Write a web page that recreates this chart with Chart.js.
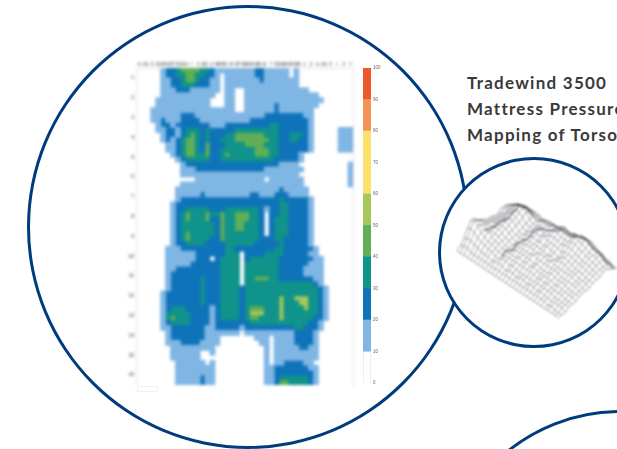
<!DOCTYPE html>
<html>
<head>
<meta charset="utf-8">
<title>Tradewind 3500 Mattress Pressure Mapping of Torso</title>
<script src="https://cdn.jsdelivr.net/npm/chart.js@4/dist/chart.umd.min.js"></script>
<style>
  html, body { margin: 0; padding: 0; background: #fff; }
  #page { position: relative; width: 617px; height: 449px; overflow: hidden; background: #fff; }
  #page > * { position: absolute; }
  .ring { box-sizing: border-box; border: 3px solid #003c7d; border-radius: 50%; background: #fff; }
  #bigRing { left: 27px; top: 5px; width: 442px; height: 444px; }
  #smallRing { left: 438px; top: 157px; width: 192px; height: 191px; }
  #lowerRing { left: 440px; top: 410px; width: 360px; height: 360px; }
  #heatCanvas { left: 120px; top: 55px; filter: blur(1.5px); }
  #barCanvas { left: 355px; top: 60px; filter: blur(0.7px); }
  #meshCanvas { left: 440px; top: 159px; filter: blur(0.9px); }
  #title { left: 467px; top: 70px; white-space: nowrap; color: #3a3a3a;
           font: bold 17px/26px Lato, sans-serif; letter-spacing: 1.25px; }
  #scaleBox { left: 137px; top: 386px; width: 19px; height: 4px; border: 1px solid #eef1f4; }
</style>
</head>
<body>
<div id="page">
  <div class="ring" id="bigRing"></div>
  <canvas id="heatCanvas" width="240" height="340"></canvas>
  <canvas id="barCanvas" width="40" height="335"></canvas>
  <div id="scaleBox"></div>
  <div id="title">Tradewind 3500<br>Mattress Pressure<br>Mapping of Torso</div>
  <div class="ring" id="smallRing"></div>
  <canvas id="meshCanvas" width="177" height="188"></canvas>
  <div class="ring" id="lowerRing"></div>
</div>
<script>
// pressure bands in mmHg
const bandEdges = [0, 10, 20, 30, 40, 50, 60, 80, 90, 100];
const bandColors = ['#ffffff', '#7fb6e4', '#0f73ba', '#10938a', '#60af55', '#a6c85a', '#fbe26c', '#f39358', '#ec5a2b'];
const rowLabels = [1, 2, 3, 4, 5, 6, 7, 8, 9, 10, 11, 12, 13, 14, 15, 16];
const colLabels = ['A','AS','Z','DS','BS','BT','DS','DA','I','X','BS','A','BB','BS','B','BT',
  'BB','BS','BB','B','T','BS','BB','BS','BB','1','Z','A','AS','X','I','X','Y'];
const columnCount = 44;

// sensor map, four lines per sensor row. each line is pairs: start column, band
const pressureRuns = [
  [5,1,6,2,8,3,9,4,13,3,15,2,16,1,24,2,26,1,31,0,32,1,33,0],
  [5,1,6,2,8,3,10,4,12,3,14,2,16,1,17,0,18,1,24,2,26,1,31,0,32,1,33,0],
  [5,1,7,2,9,3,10,4,12,3,13,2,15,1,17,0,18,1,25,2,26,1,33,0],
  [5,1,7,2,9,3,12,2,15,1,17,0,18,1,33,0],
  [5,1,8,2,11,1,17,0,18,1,20,0,22,1,35,0],
  [5,1,16,0,18,1,20,0,22,1,37,0],
  [4,1,15,0,18,1,20,0,22,1,38,0],
  [4,1,15,0,18,1,20,0,22,1,28,2,29,1,37,0],
  [3,1,20,0,22,1,28,2,29,1,36,0],
  [3,1,9,2,12,1,26,2,34,1,36,0],
  [3,1,5,2,6,1,9,2,13,1,23,2,35,1,36,0],
  [4,1,5,2,7,1,8,2,15,1,18,2,27,3,29,2,35,1,36,0],
  [4,1,6,2,8,1,9,2,10,3,13,2,14,3,15,2,20,3,29,2,35,1,36,0,41,1],
  [5,1,6,2,8,1,9,2,10,3,11,4,12,3,13,2,14,3,15,2,18,3,20,4,26,3,29,2,31,3,34,2,35,1,36,0,41,1],
  [5,1,6,2,7,1,8,2,9,3,10,4,12,3,13,2,14,3,15,2,17,3,20,4,27,3,29,2,31,3,33,2,35,1,36,0,41,1],
  [6,1,8,2,9,3,10,4,12,3,13,2,14,4,15,2,18,3,22,4,26,3,29,2,35,1,36,0,41,1],
  [6,1,8,2,9,3,10,4,12,3,13,2,14,4,15,2,17,3,24,4,27,3,29,2,35,1,36,0,41,1],
  [7,1,8,2,9,3,10,4,12,3,14,4,15,2,17,3,18,4,19,3,24,4,27,3,29,2,33,1,34,0],
  [8,1,9,2,10,3,15,2,17,3,28,2,33,1,34,0],
  [9,1,10,2,29,1,33,0,43,1],
  [9,1,12,2,26,1,34,0,43,1],
  [9,1,33,0,43,1],
  [12,1,26,0,27,1,34,0,43,1],
  [9,1,34,0,43,1],
  [8,1,29,2,30,1,35,0],
  [8,1,13,2,14,1,23,2,25,1,28,2,31,1,35,0],
  [8,1,9,2,29,3,30,2,35,1,36,0],
  [7,1,8,2,29,3,31,2,35,1,36,0],
  [7,1,8,2,10,3,15,2,18,3,25,2,26,1,27,2,29,3,31,2,35,1,36,0],
  [7,1,8,2,9,3,10,4,11,3,14,4,15,3,17,4,18,3,20,4,23,3,25,2,26,0,27,2,29,3,31,2,35,1,36,0],
  [7,1,8,2,9,3,10,4,11,3,14,4,15,2,17,4,18,3,20,4,23,3,25,2,26,0,27,2,28,3,31,2,35,1,36,0],
  [7,1,8,2,9,3,16,2,17,4,18,3,20,4,22,3,25,2,26,0,27,2,28,3,31,2,35,1,36,0],
  [7,1,8,2,9,3,16,2,17,4,18,3,20,4,22,3,25,2,26,0,27,2,28,3,31,2,35,1,36,0],
  [7,1,8,2,9,3,10,4,11,3,16,2,17,4,18,3,25,2,26,0,27,2,28,3,31,2,35,1,36,0],
  [7,1,8,2,9,3,10,4,11,3,15,2,17,4,18,3,25,2,28,3,30,2,35,1,36,0],
  [7,1,8,2,10,3,14,2,18,3,24,2,29,3,30,2,35,1,36,0],
  [6,1,9,2,18,3,20,2,28,3,30,2,36,1,37,0],
  [6,1,12,2,18,3,21,0,22,2,26,3,30,2,35,1,37,0],
  [6,1,12,2,15,0,16,2,17,3,21,0,22,2,23,3,29,2,36,1,38,0],
  [6,1,11,2,17,3,21,0,22,3,29,2,35,1,38,0],
  [6,1,8,2,17,3,21,0,22,3,29,2,34,1,38,0],
  [6,1,7,2,17,3,21,0,22,3,29,2,34,1,38,0],
  [6,1,7,2,13,3,14,2,17,3,21,0,22,3,24,4,27,3,29,2,36,1,38,0],
  [6,1,7,2,13,3,14,2,17,3,21,0,22,3,36,2,37,1,38,0],
  [6,1,7,2,13,3,14,2,17,3,21,2,22,3,37,2,38,1,39,0],
  [5,1,6,2,13,3,14,2,17,3,21,2,22,3,37,2,38,1,39,0],
  [5,1,6,2,13,3,14,2,17,3,21,2,22,3,29,5,30,3,32,5,35,3,37,2,38,1,39,0],
  [5,1,6,2,13,3,14,2,17,3,21,2,22,3,29,5,30,3,33,5,35,3,37,2,38,1,39,0],
  [5,1,6,2,7,3,10,2,15,1,16,2,17,3,21,2,22,3,23,4,26,3,29,5,30,3,34,5,35,3,37,2,38,1,39,0],
  [5,1,6,3,11,2,15,1,16,2,17,3,21,2,22,3,23,5,26,3,29,5,30,3,37,2,38,1,39,0],
  [5,1,6,3,7,4,8,3,11,2,15,1,16,2,17,3,21,2,22,3,23,4,25,3,29,5,30,3,36,2,38,1,39,0],
  [5,1,6,2,7,3,11,2,15,1,16,2,23,3,35,2,37,1,38,0],
  [5,1,7,2,14,1,16,2,21,1,22,2,32,3,34,2,37,1,38,0],
  [6,1,7,2,14,1,21,0,22,1,32,2,36,1,37,0],
  [6,1,7,2,14,1,17,0,24,1,27,0,28,1,32,2,36,1,37,0],
  [6,1,9,2,13,1,17,0,25,1,27,0,28,1,32,2,36,1,37,0],
  [7,1,16,0,26,1,27,0,28,1,33,2,35,1,37,0],
  [7,1,13,0,15,1,16,0,26,1,27,0,28,1,37,0],
  [7,1,13,0,26,1,27,0,28,1,37,0],
  [8,1,14,0,15,1,16,0,26,1,27,0,28,1,30,2,34,1,36,0],
  [8,1,16,0,26,1,28,2,35,1,37,0],
  [8,1,16,0,26,1,28,2,36,1,37,0],
  [8,1,13,2,14,1,16,0,26,1,28,2,29,3,35,2,36,1,37,0],
  [8,1,13,2,14,1,16,0,26,1,28,2,29,4,31,3,35,2,36,1,37,0]
];

// surface heights for the wire plot, one string per line across the mattress
const meshHeights = [
  '013688654332233210',
  '024798754433344321',
  '024687655444455431',
  '013566555555666532',
  '013456566667787532',
  '012445566778898632',
  '012344556677898642',
  '012334445566787532',
  '011233344445566431',
  '012223333444555432',
  '012333344455556532',
  '012333444556666542',
  '011233445566766542',
  '012334445556667642',
  '012233445567677653',
  '011234454556788763',
  '012233345566788753',
  '012234445456778753',
  '011233344556678764',
  '012223345445778864',
  '012233344556789864',
  '011223444566788975',
  '012233344556678975',
  '011222334455677864',
  '011223334445566753',
  '001122334445566653',
  '011122233344556642',
  '001112233334455532',
  '001112222334444431',
  '000111222233344321'
];

// mesh nodes along the two dark crests of the surface
const crestNodes = [
  [[3,5],[3,6],[4,7],[4,8],[4,9],[5,10],[5,11],[5,12],[5,13],[6,13],[6,14],[7,14],[8,14]],
  [[9,4],[9,5],[10,6],[10,7],[10,8],[11,9],[11,10],[11,11],[12,12],[13,13],[14,13],[15,13],[16,14],
   [17,14],[18,14],[19,14],[20,15],[21,15],[22,15],[23,15],[24,15],[25,16],[26,16],[27,16],[28,16],[29,16]]
];

// puts every lit cell in the dataset of its band
function pressureCells() {
  const cells = bandColors.map(() => []);
  pressureRuns.forEach((runs, row) => {
    for (let i = 0; i < runs.length; i += 2) {
      const end = i + 2 < runs.length ? runs[i + 2] : columnCount;
      for (let col = runs[i]; col < end; col++) {
        if (runs[i + 1] > 0) cells[runs[i + 1]].push({ x: col + 0.5, y: 0.5 + (row + 0.5) / 4 });
      }
    }
  });
  return cells;
}

const heatSets = pressureCells().map((cells, band) => ({
  data: cells,
  pointStyle: 'rect',
  pointRadius: 4.1,
  pointHoverRadius: 4.1,
  borderWidth: 0,
  backgroundColor: bandColors[band]
}));

new Chart(document.getElementById('heatCanvas'), {
  type: 'scatter',
  data: { datasets: heatSets },
  options: {
    responsive: false,
    animation: false,
    devicePixelRatio: 1,
    layout: { padding: { left: 6, right: 7, top: 5, bottom: 10 } },
    plugins: { legend: { display: false }, tooltip: { enabled: false } },
    scales: {
      x: {
        position: 'top', min: 0, max: columnCount,
        afterBuildTicks: s => { s.ticks = colLabels.map((l, i) => ({ value: 0.6 + i * 1.34 })); },
        afterFit: s => { s.height = 8; },
        grid: { drawOnChartArea: false, drawTicks: false },
        border: { color: '#dfe4e8', width: 1 },
        ticks: {
          autoSkip: false, maxRotation: 0, padding: 1, color: '#333',
          font: { size: 4.5, family: 'Liberation Sans' },
          callback: (v, i) => colLabels[i]
        }
      },
      y: {
        reverse: true, min: 0.5, max: 16.5,
        afterBuildTicks: s => { s.ticks = rowLabels.map(v => ({ value: v })); },
        afterFit: s => { s.width = 10; },
        grid: { drawOnChartArea: false, drawTicks: false },
        border: { color: '#dfe4e8', width: 1 },
        ticks: {
          autoSkip: false, padding: 2, color: '#333',
          font: { size: 5, family: 'Liberation Sans' }
        }
      },
      right: {
        position: 'right', display: true, min: 0, max: 1,
        grid: { display: false },
        border: { color: '#dfe4e8', width: 1 },
        ticks: { display: false },
        afterFit: s => { s.width = 0; }
      }
    }
  }
});

const barSets = bandColors.map((color, band) => ({
  data: [bandEdges[band + 1] - bandEdges[band]],
  backgroundColor: color,
  borderColor: band === 0 ? '#e3e6e8' : color,
  borderWidth: band === 0 ? 1 : 0,
  barPercentage: 1,
  categoryPercentage: 1
}));

new Chart(document.getElementById('barCanvas'), {
  type: 'bar',
  data: { labels: ['mmHg'], datasets: barSets },
  options: {
    responsive: false,
    animation: false,
    devicePixelRatio: 1,
    layout: { padding: { left: 8, right: 4, top: 8, bottom: 4 } },
    plugins: { legend: { display: false }, tooltip: { enabled: false } },
    scales: {
      x: {
        stacked: true,
        afterFit: s => { s.height = 8; },
        grid: { display: false },
        border: { display: false },
        ticks: { color: '#666', maxRotation: 0, autoSkip: false, padding: 0, labelOffset: 5,
                 font: { size: 4.5, family: 'Liberation Sans' } }
      },
      y: {
        stacked: true, position: 'right', min: 0, max: 100,
        afterFit: s => { s.width = 20; },
        grid: { display: false, drawTicks: false },
        border: { display: false },
        ticks: { stepSize: 10, padding: 2, color: '#666',
                 font: { size: 4.5, family: 'Liberation Sans' } }
      }
    }
  }
});

// oblique view of the surface: two floor directions plus a lift for height
function project(i, j) {
  const lift = Number(meshHeights[i][j]) * 2.4;
  return { x: 17 + i * 3.5 + j * 3.43, y: 96 - (i * 2.3 - j * 2.76) + lift };
}

const meshSets = [];
const addMeshLine = (points, color, width) => {
  meshSets.push({ data: points, showLine: true, pointRadius: 0, borderColor: color, borderWidth: width });
};
meshHeights.forEach((line, i) => {
  addMeshLine([...line].map((h, j) => project(i, j)), 'rgba(60,65,70,0.5)', 0.9);
});
[...meshHeights[0]].forEach((h, j) => {
  addMeshLine(meshHeights.map((line, i) => project(i, j)), 'rgba(60,65,70,0.5)', 0.9);
});
crestNodes.forEach(nodes => {
  addMeshLine(nodes.map(([i, j]) => project(i, j)), 'rgba(45,50,55,0.6)', 1.5);
});

new Chart(document.getElementById('meshCanvas'), {
  type: 'scatter',
  data: { datasets: meshSets },
  options: {
    responsive: false,
    animation: false,
    devicePixelRatio: 1,
    layout: { padding: 0 },
    plugins: { legend: { display: false }, tooltip: { enabled: false } },
    scales: {
      x: { display: false, min: 0, max: 177 },
      y: { display: false, min: 0, max: 188 }
    }
  }
});
</script>
</body>
</html>
